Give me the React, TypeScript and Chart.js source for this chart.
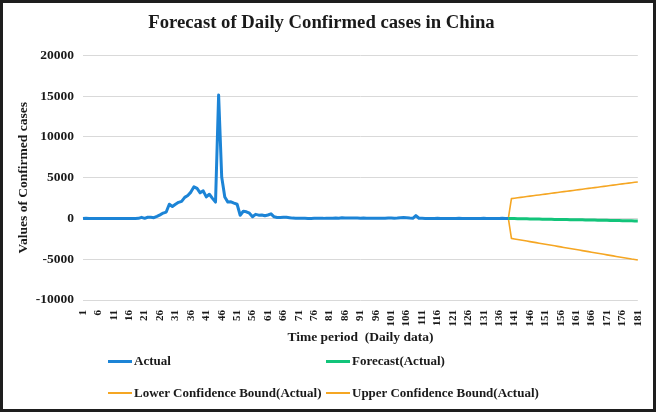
import React, { useEffect, useRef } from "react";
import { Chart, registerables } from "chart.js";

Chart.register(...registerables);

// Day index categories 1..181
const days: string[] = Array.from({ length: 181 }, (_, i) => String(i + 1));

// Actual daily confirmed cases, days 1..139
const actual: number[] = [
  0, 27, 0, 0, 0, 0, 0, 0, 0, 0, 0, 0, 0, 0, 0, 0, 0,
  4, 17, 136, 19, 151, 140, 97, 259, 441, 665, 787, 1753, 1466,
  1740, 1980, 2102, 2590, 2829, 3235, 3887, 3694, 3143, 3385,
  2652, 2973, 2467, 2015, 15152, 5090, 2641, 2008, 2048, 1886,
  1749, 394, 889, 823, 648, 214, 508, 406, 433, 327,
  427, 573, 202, 125, 119, 139, 143, 99, 44, 40,
  19, 24, 15, 8, 11, 20, 16, 21, 13, 34,
  39, 41, 46, 39, 78, 47, 67, 55, 54, 45,
  31, 48, 36, 35, 31, 19, 30, 39, 32, 62,
  62, 42, 46, 99, 108, 89, 46, 26, 352, 27,
  16, 12, 11, 12, 10, 30, 10, 6, 12, 11,
  3, 2, 22, 4, 1, 2, 1, 3, 2, 5,
  17, 1, 4, 3, 7, 1, 14, 3, 5,
];

// Forecast, days 139..181
const forecast: number[] = [
  5, -8, -12, -22, -26, -37, -40, -52, -55, -66,
  -70, -80, -84, -95, -98, -110, -113, -124, -128, -139,
  -142, -153, -157, -168, -171, -182, -186, -197, -200, -211,
  -215, -226, -229, -240, -244, -255, -258, -269, -273, -284,
  -287, -296, -300,
];

// Lower confidence bound, days 139..181
const lower: number[] = [
  5, -2445, -2510, -2575, -2640, -2705, -2770, -2835, -2900, -2965,
  -3030, -3095, -3160, -3225, -3290, -3355, -3420, -3485, -3550, -3615,
  -3680, -3745, -3810, -3875, -3940, -4005, -4070, -4135, -4200, -4265,
  -4330, -4395, -4460, -4525, -4590, -4655, -4720, -4785, -4850, -4915,
  -4980, -5035, -5085,
];

// Upper confidence bound, days 139..181
const upper: number[] = [
  5, 2440, 2490, 2540, 2590, 2640, 2690, 2740, 2790, 2840,
  2890, 2940, 2990, 3040, 3090, 3140, 3190, 3240, 3290, 3340,
  3390, 3440, 3490, 3540, 3590, 3640, 3690, 3740, 3790, 3840,
  3890, 3940, 3990, 4040, 4090, 4140, 4190, 4240, 4290, 4340,
  4390, 4440, 4480,
];

const forecastStart = 139;

const seriesNames = [
  "Actual",
  "Forecast(Actual)",
  "Lower Confidence Bound(Actual)",
  "Upper Confidence Bound(Actual)",
];
const colors = ["#1c84d6", "#12c47a", "#f5a623", "#f5a623"];

const FONT = "'Liberation Serif', 'Times New Roman', serif";
const TEXT = "#1a1a1a";

function pad(values: number[]): (number | null)[] {
  const lead: (number | null)[] = new Array(forecastStart - 1).fill(null);
  return lead.concat(values);
}

export default function App() {
  const ref = useRef<HTMLCanvasElement | null>(null);

  useEffect(() => {
    document.body.style.margin = "0";
    if (!ref.current) return;
    const chart = new Chart(ref.current, {
      type: "line",
      data: {
        labels: days,
        datasets: [
          { label: seriesNames[0], data: actual, borderColor: colors[0], borderWidth: 3 },
          { label: seriesNames[1], data: pad(forecast), borderColor: colors[1], borderWidth: 3 },
          { label: seriesNames[2], data: pad(lower), borderColor: colors[2], borderWidth: 1.6 },
          { label: seriesNames[3], data: pad(upper), borderColor: colors[3], borderWidth: 1.6 },
        ].map((d) => ({ ...d, pointRadius: 0, tension: 0, fill: false, borderJoinStyle: "round" as const })),
      },
      options: {
        animation: false,
        responsive: false,
        devicePixelRatio: 1,
        layout: { padding: { left: 0, right: 13, top: 0, bottom: 59 } },
        plugins: {
          legend: { display: false },
          tooltip: { enabled: false },
          title: {
            display: true,
            text: "Forecast of Daily Confirmed cases in China",
            color: TEXT,
            font: { family: FONT, size: 18.7, weight: "bold" },
            padding: { top: 9, bottom: 21 },
          },
        },
        scales: {
          x: {
            type: "category",
            offset: false,
            grid: { display: false },
            border: { display: false },
            ticks: {
              autoSkip: false,
              minRotation: 90,
              maxRotation: 90,
              padding: 2,
              color: TEXT,
              font: { family: FONT, size: 11, weight: "bold" },
              callback: (_v: any, i: number) => (i % 5 === 0 ? days[i] : ""),
            },
            title: {
              display: true,
              text: "Time period  (Daily data)",
              color: TEXT,
              font: { family: FONT, size: 13.5, weight: "bold" },
              padding: { top: 0, bottom: 4 },
            },
            afterFit: (s: any) => {
              s.height = 50;
            },
          },
          y: {
            min: -10000,
            max: 20000,
            grid: { color: "#d9d9d9", lineWidth: 1, drawTicks: false },
            border: { display: false },
            ticks: {
              stepSize: 5000,
              padding: 9,
              color: TEXT,
              font: { family: FONT, size: 13.5, weight: "bold" },
              callback: (v: any) => String(v),
            },
            title: {
              display: true,
              text: "Values of Confirmed cases",
              color: TEXT,
              font: { family: FONT, size: 13.5, weight: "bold" },
              padding: { top: 12, bottom: 4 },
            },
            afterFit: (s: any) => {
              s.width = 80;
            },
          },
        },
      },
    });
    return () => chart.destroy();
  }, []);

  const legendItem = (i: number, left: number, top: number) => (
    <div
      key={i}
      style={{
        position: "absolute",
        left,
        top,
        display: "flex",
        alignItems: "center",
        fontFamily: FONT,
        fontWeight: "bold",
        fontSize: 13,
        color: TEXT,
        whiteSpace: "nowrap",
        lineHeight: "16px",
      }}
    >
      <span
        style={{
          display: "inline-block",
          width: 24,
          height: i < 2 ? 3 : 2,
          background: colors[i],
          marginRight: 2,
        }}
      />
      {seriesNames[i]}
    </div>
  );

  return (
    <div
      style={{
        position: "relative",
        width: 656,
        height: 412,
        boxSizing: "border-box",
        border: "3px solid #1e1e1e",
        background: "#fff",
        overflow: "hidden",
      }}
    >
      <canvas ref={ref} width={650} height={406} style={{ display: "block", width: 650, height: 406 }} />
      {legendItem(0, 105, 350)}
      {legendItem(1, 323, 350)}
      {legendItem(2, 105, 382)}
      {legendItem(3, 323, 382)}
    </div>
  );
}
